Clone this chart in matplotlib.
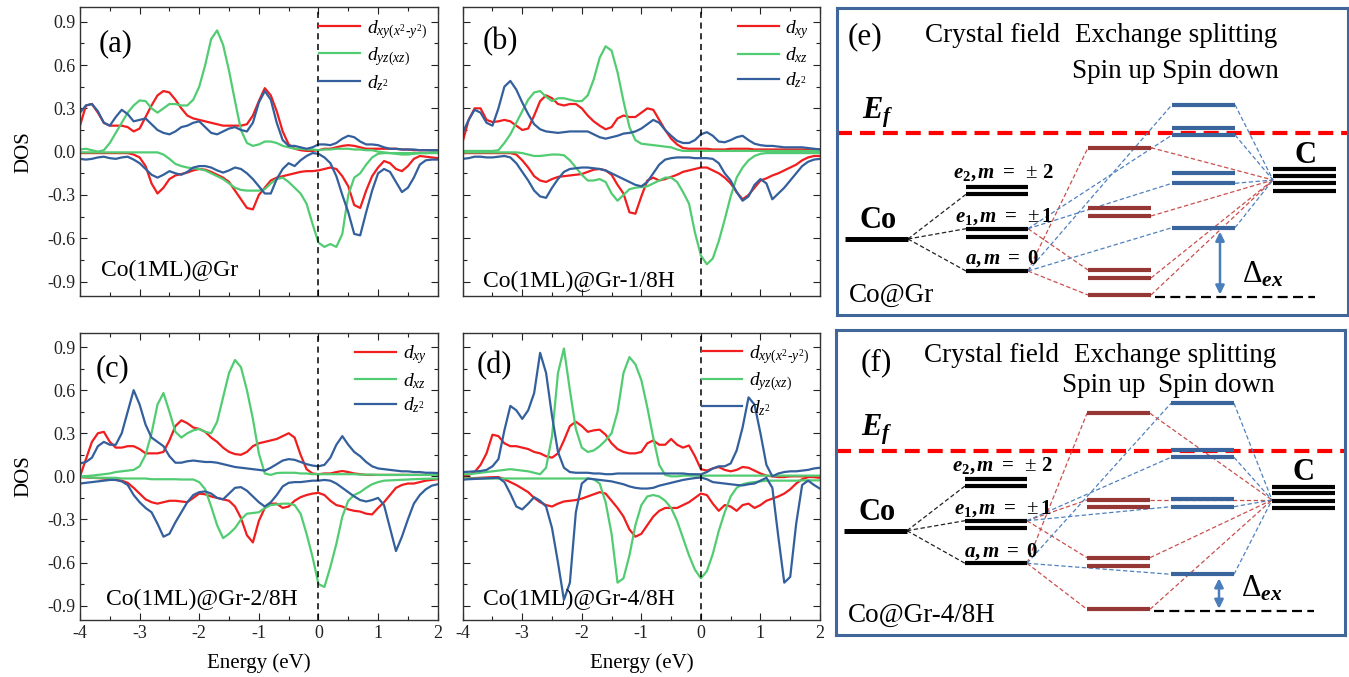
"""
Orbital-resolved Co d-DOS for Co(1ML)@Gr with H coverage (a-d)
and schematic level diagrams for crystal field / exchange splitting (e, f).
"""
import numpy as np
import matplotlib
matplotlib.use("Agg")
import matplotlib.pyplot as plt
from matplotlib.ticker import MultipleLocator, FormatStrFormatter

plt.rcParams["font.family"] = ["Liberation Serif", "DejaVu Serif"]
plt.rcParams["mathtext.fontset"] = "custom"
plt.rcParams["mathtext.rm"] = "Liberation Serif"
plt.rcParams["mathtext.it"] = "Liberation Serif:italic"
plt.rcParams["mathtext.bf"] = "Liberation Serif:bold"
plt.rcParams["mathtext.bfit"] = "Liberation Serif:bold:italic"
plt.rcParams["axes.unicode_minus"] = False

W, H = 1349, 677
RED, GREEN, BLUE = "#F01E1E", "#52CC72", "#33609C"

# ---------------- DOS data, energy grid -4 .. 2 eV, 0.1 eV step -------------
ENERGY = np.round(np.linspace(-4.0, 2.0, 61), 1)

# (a) Co(1ML)@Gr
A_XY_UP = [0.18, 0.32, 0.33, 0.27, 0.20, 0.18, 0.18, 0.18, 0.17, 0.14,
           0.16, 0.24, 0.32, 0.39, 0.42, 0.41, 0.36, 0.30, 0.25, 0.23,
           0.22, 0.21, 0.20, 0.19, 0.18, 0.18, 0.18, 0.18, 0.19, 0.25,
           0.35, 0.44, 0.39, 0.28, 0.14, 0.05, 0.02, 0.01, 0.005, 0.005,
           0.01, 0.02, 0.02, 0.03, 0.04, 0.045, 0.04, 0.03, 0.02, 0.02,
           0.02, 0.02, 0.02, 0.02, 0.015, 0.015, 0.01, 0.01, 0.01, 0.01,
           0.01]
A_YZ_UP = [0.015, 0.02, 0.01, 0.0, 0.01, 0.06, 0.13, 0.20, 0.27, 0.32,
           0.355, 0.35, 0.30, 0.27, 0.30, 0.33, 0.33, 0.32, 0.32, 0.36,
           0.45, 0.60, 0.78, 0.84, 0.74, 0.56, 0.35, 0.15, 0.06, 0.04,
           0.05, 0.07, 0.07, 0.06, 0.04, 0.03, 0.02, 0.02, 0.015, 0.015,
           0.01, 0.015, 0.015, 0.02, 0.02, 0.02, 0.015, 0.015, 0.01, 0.01,
           0.0, -0.005, -0.01, -0.015, -0.02, -0.02, -0.015, -0.01, -0.01, -0.005,
           -0.005]
A_Z2_UP = [0.27, 0.32, 0.33, 0.28, 0.20, 0.18, 0.24, 0.29, 0.26, 0.21,
           0.22, 0.23, 0.19, 0.15, 0.13, 0.12, 0.14, 0.17, 0.18, 0.20,
           0.21, 0.17, 0.13, 0.12, 0.14, 0.16, 0.17, 0.15, 0.14, 0.20,
           0.34, 0.42, 0.36, 0.20, 0.08, 0.04, 0.04, 0.03, 0.02, 0.03,
           0.05, 0.05, 0.045, 0.06, 0.09, 0.11, 0.10, 0.07, 0.05, 0.05,
           0.045, 0.03, 0.02, 0.02, 0.015, 0.015, 0.015, 0.01, 0.01, 0.01,
           0.01]
A_XY_DN = [-0.01, -0.01, -0.01, -0.01, -0.01, -0.01, -0.01, -0.01, -0.01, -0.02,
           -0.04, -0.10, -0.22, -0.29, -0.25, -0.19, -0.165, -0.155, -0.145, -0.13,
           -0.12, -0.125, -0.14, -0.16, -0.18, -0.21, -0.27, -0.33, -0.39, -0.40,
           -0.30, -0.25, -0.20, -0.18, -0.17, -0.16, -0.15, -0.14, -0.135, -0.135,
           -0.13, -0.12, -0.11, -0.12, -0.17, -0.24, -0.37, -0.39, -0.27, -0.17,
           -0.11, -0.065, -0.08, -0.12, -0.135, -0.10, -0.05, -0.03, -0.035, -0.04,
           -0.045]
A_YZ_DN = [-0.005, -0.005, -0.005, -0.005, -0.005, -0.005, -0.005, -0.005, -0.005, -0.005,
           -0.005, -0.005, -0.005, -0.005, -0.02, -0.05, -0.085, -0.10, -0.11, -0.115,
           -0.12, -0.13, -0.15, -0.17, -0.19, -0.22, -0.25, -0.265, -0.27, -0.27,
           -0.27, -0.26, -0.22, -0.19, -0.18, -0.21, -0.25, -0.29, -0.36, -0.50,
           -0.63, -0.66, -0.64, -0.66, -0.57, -0.30, -0.18, -0.15, -0.09, -0.04,
           -0.015, -0.01, -0.01, -0.01, -0.01, -0.01, -0.01, -0.01, -0.01, -0.01,
           -0.01]
A_Z2_DN = [-0.05, -0.055, -0.05, -0.04, -0.035, -0.045, -0.05, -0.04, -0.035, -0.055,
           -0.08, -0.12, -0.16, -0.18, -0.16, -0.135, -0.15, -0.16, -0.14, -0.11,
           -0.10, -0.10, -0.11, -0.13, -0.145, -0.13, -0.11, -0.12, -0.15, -0.19,
           -0.24, -0.29, -0.29, -0.19, -0.12, -0.08, -0.10, -0.06, -0.03, -0.01,
           -0.015, -0.04, -0.08, -0.17, -0.30, -0.42, -0.57, -0.58, -0.42, -0.27,
           -0.15, -0.12, -0.14, -0.21, -0.28, -0.25, -0.18, -0.09, -0.06, -0.055,
           -0.055]

# (b) Co(1ML)@Gr-1/8H
B_XY_UP = [0.07, 0.22, 0.30, 0.30, 0.22, 0.205, 0.21, 0.22, 0.21, 0.18,
           0.15, 0.16, 0.25, 0.35, 0.39, 0.37, 0.33, 0.32, 0.33, 0.33,
           0.30, 0.25, 0.21, 0.18, 0.155, 0.17, 0.23, 0.25, 0.24, 0.24,
           0.27, 0.30, 0.29, 0.22, 0.15, 0.09, 0.05, 0.025, 0.02, 0.02,
           0.02, 0.02, 0.015, 0.015, 0.015, 0.02, 0.02, 0.02, 0.02, 0.015,
           0.015, 0.015, 0.015, 0.015, 0.015, 0.015, 0.015, 0.015, 0.015, 0.015,
           0.015]
B_XZ_UP = [0.005, 0.005, 0.005, 0.005, 0.005, 0.005, 0.01, 0.06, 0.12, 0.20,
           0.28, 0.36, 0.41, 0.42, 0.38, 0.35, 0.37, 0.37, 0.36, 0.35,
           0.35, 0.39, 0.50, 0.65, 0.73, 0.70, 0.55, 0.35, 0.17, 0.08,
           0.055, 0.05, 0.045, 0.04, 0.035, 0.03, 0.015, 0.005, 0.005, 0.005,
           0.005, 0.005, 0.005, 0.005, 0.005, 0.005, 0.005, 0.005, 0.005, 0.005,
           0.005, 0.005, 0.005, 0.005, 0.005, 0.005, 0.005, 0.005, 0.005, 0.005,
           0.005]
B_Z2_UP = [0.13, 0.22, 0.29, 0.27, 0.20, 0.18, 0.30, 0.45, 0.49, 0.43,
           0.34, 0.26, 0.19, 0.155, 0.14, 0.135, 0.13, 0.135, 0.14, 0.14,
           0.14, 0.14, 0.12, 0.10, 0.09, 0.10, 0.11, 0.125, 0.13, 0.14,
           0.16, 0.19, 0.22, 0.20, 0.15, 0.11, 0.075, 0.06, 0.06, 0.08,
           0.12, 0.135, 0.11, 0.07, 0.065, 0.08, 0.10, 0.11, 0.08, 0.055,
           0.045, 0.04, 0.04, 0.035, 0.03, 0.03, 0.03, 0.03, 0.025, 0.02,
           0.016]
B_XY_DN = [-0.01, -0.01, -0.01, -0.01, -0.01, -0.01, -0.01, -0.01, -0.01, -0.02,
           -0.06, -0.11, -0.17, -0.20, -0.21, -0.19, -0.175, -0.17, -0.165, -0.16,
           -0.155, -0.14, -0.125, -0.12, -0.13, -0.16, -0.23, -0.29, -0.42, -0.43,
           -0.31, -0.20, -0.18, -0.20, -0.19, -0.175, -0.16, -0.14, -0.13, -0.12,
           -0.11, -0.11, -0.13, -0.15, -0.18, -0.22, -0.28, -0.33, -0.30, -0.25,
           -0.20, -0.185, -0.165, -0.15, -0.13, -0.11, -0.09, -0.06, -0.04, -0.03,
           -0.03]
B_XZ_DN = [-0.005, -0.005, -0.005, -0.005, -0.005, -0.005, -0.005, -0.005, -0.005, -0.005,
           -0.01, -0.02, -0.03, -0.03, -0.025, -0.02, -0.02, -0.025, -0.06, -0.11,
           -0.16, -0.20, -0.20, -0.19, -0.21, -0.29, -0.34, -0.30, -0.26, -0.25,
           -0.245, -0.24, -0.22, -0.20, -0.18, -0.18, -0.21, -0.28, -0.36, -0.56,
           -0.72, -0.78, -0.74, -0.62, -0.47, -0.31, -0.18, -0.11, -0.06, -0.03,
           -0.015, -0.01, -0.01, -0.01, -0.01, -0.01, -0.01, -0.01, -0.01, -0.01,
           -0.01]
B_Z2_DN = [-0.05, -0.045, -0.035, -0.035, -0.04, -0.04, -0.035, -0.03, -0.04, -0.08,
           -0.14, -0.20, -0.27, -0.31, -0.32, -0.25, -0.19, -0.14, -0.12, -0.115,
           -0.11, -0.11, -0.115, -0.12, -0.13, -0.15, -0.17, -0.19, -0.21, -0.23,
           -0.24, -0.21, -0.15, -0.09, -0.055, -0.045, -0.04, -0.04, -0.04, -0.045,
           -0.045, -0.045, -0.05, -0.08, -0.15, -0.20, -0.28, -0.34, -0.31, -0.23,
           -0.19, -0.22, -0.33, -0.29, -0.25, -0.20, -0.15, -0.10, -0.07, -0.055,
           -0.05]

# (c) Co(1ML)@Gr-2/8H
C_XY_UP = [0.0, 0.12, 0.24, 0.30, 0.31, 0.24, 0.20, 0.20, 0.21, 0.21,
           0.19, 0.16, 0.16, 0.16, 0.17, 0.25, 0.35, 0.39, 0.37, 0.34,
           0.33, 0.31, 0.27, 0.24, 0.20, 0.17, 0.155, 0.15, 0.17, 0.21,
           0.23, 0.24, 0.25, 0.26, 0.28, 0.30, 0.27, 0.15, 0.05, 0.02,
           0.015, 0.02, 0.02, 0.03, 0.037, 0.03, 0.02, 0.015, 0.01, 0.01,
           0.01, 0.01, 0.01, 0.01, 0.01, 0.01, 0.01, 0.01, 0.01, 0.01,
           0.01]
C_XZ_UP = [0.0, 0.002, 0.005, 0.01, 0.015, 0.02, 0.03, 0.035, 0.04, 0.045,
           0.07, 0.15, 0.30, 0.50, 0.58, 0.45, 0.31, 0.27, 0.30, 0.32,
           0.33, 0.31, 0.30, 0.38, 0.55, 0.72, 0.81, 0.76, 0.60, 0.40,
           0.16, 0.02, 0.01, 0.023, 0.025, 0.025, 0.025, 0.02, 0.02, 0.015,
           0.015, 0.015, 0.015, 0.015, 0.015, 0.015, 0.015, 0.012, 0.012, 0.012,
           0.01, 0.01, 0.01, 0.01, 0.01, 0.01, 0.01, 0.01, 0.01, 0.01,
           0.01]
C_Z2_UP = [0.09, 0.10, 0.13, 0.21, 0.24, 0.22, 0.22, 0.30, 0.45, 0.60,
           0.50, 0.36, 0.27, 0.24, 0.21, 0.14, 0.095, 0.095, 0.105, 0.11,
           0.105, 0.10, 0.10, 0.095, 0.085, 0.075, 0.065, 0.06, 0.055, 0.05,
           0.045, 0.04, 0.06, 0.085, 0.11, 0.12, 0.115, 0.10, 0.085, 0.075,
           0.07, 0.08, 0.13, 0.22, 0.28, 0.22, 0.17, 0.14, 0.10, 0.07,
           0.055, 0.05, 0.045, 0.04, 0.035, 0.035, 0.03, 0.03, 0.025, 0.025,
           0.023]
C_XY_DN = [-0.005, -0.008, -0.01, -0.012, -0.015, -0.02, -0.025, -0.03, -0.045, -0.08,
           -0.12, -0.16, -0.18, -0.19, -0.18, -0.17, -0.17, -0.175, -0.18, -0.15,
           -0.12, -0.125, -0.14, -0.15, -0.16, -0.17, -0.21, -0.29, -0.41, -0.46,
           -0.31, -0.22, -0.19, -0.19, -0.22, -0.21, -0.17, -0.145, -0.13, -0.12,
           -0.115, -0.13, -0.17, -0.20, -0.21, -0.23, -0.24, -0.245, -0.26, -0.265,
           -0.22, -0.18, -0.13, -0.08, -0.06, -0.05, -0.05, -0.04, -0.03, -0.025,
           -0.02]
C_XZ_DN = [-0.005, -0.005, -0.01, -0.01, -0.01, -0.01, -0.01, -0.015, -0.015, -0.015,
           -0.015, -0.015, -0.02, -0.02, -0.02, -0.02, -0.02, -0.022, -0.022, -0.022,
           -0.04, -0.09, -0.21, -0.34, -0.43, -0.40, -0.36, -0.30, -0.26, -0.255,
           -0.25, -0.22, -0.20, -0.195, -0.19, -0.19, -0.20, -0.26, -0.40, -0.56,
           -0.75, -0.77, -0.63, -0.47, -0.28, -0.17, -0.13, -0.11, -0.08, -0.055,
           -0.04, -0.03, -0.028, -0.026, -0.024, -0.022, -0.02, -0.018, -0.017, -0.016,
           -0.016]
C_Z2_DN = [-0.05, -0.045, -0.04, -0.035, -0.03, -0.025, -0.025, -0.035, -0.06, -0.13,
           -0.18, -0.22, -0.25, -0.33, -0.42, -0.40, -0.32, -0.25, -0.18, -0.13,
           -0.11, -0.105, -0.12, -0.15, -0.16, -0.12, -0.08, -0.075, -0.10, -0.14,
           -0.18, -0.21, -0.18, -0.13, -0.07, -0.045, -0.04, -0.04, -0.035, -0.03,
           -0.03, -0.025, -0.03, -0.05, -0.08, -0.11, -0.14, -0.165, -0.175, -0.165,
           -0.15, -0.20, -0.36, -0.52, -0.42, -0.30, -0.19, -0.13, -0.09, -0.065,
           -0.055]

# (d) Co(1ML)@Gr-4/8H
D_XY_UP = [0.007, 0.01, 0.03, 0.08, 0.16, 0.29, 0.28, 0.23, 0.21, 0.21,
           0.20, 0.19, 0.17, 0.16, 0.14, 0.13, 0.16, 0.25, 0.35, 0.38,
           0.35, 0.31, 0.32, 0.325, 0.29, 0.23, 0.19, 0.17, 0.16, 0.16,
           0.17, 0.23, 0.25, 0.22, 0.22, 0.26, 0.22, 0.20, 0.215, 0.14,
           0.05, 0.04, 0.055, 0.065, 0.045, 0.035, 0.045, 0.065, 0.06, 0.04,
           0.02, 0.005, 0.0, -0.005, -0.005, 0.0, 0.0, 0.0, 0.0, -0.005,
           -0.005]
D_XZ_UP = [0.014, 0.016, 0.02, 0.025, 0.03, 0.035, 0.04, 0.045, 0.05, 0.045,
           0.04, 0.035, 0.025, 0.015, 0.06, 0.28, 0.72, 0.89, 0.60, 0.33,
           0.20, 0.17, 0.18, 0.21, 0.25, 0.30, 0.45, 0.72, 0.83, 0.78,
           0.67, 0.48, 0.27, 0.08, 0.01, 0.0, 0.0, 0.005, 0.005, 0.005,
           0.005, 0.005, 0.005, 0.005, 0.005, 0.005, 0.005, 0.005, 0.005, 0.005,
           0.005, 0.005, 0.005, 0.005, 0.005, 0.005, 0.005, 0.005, 0.005, 0.005,
           0.005]
D_Z2_UP = [0.03, 0.032, 0.035, 0.037, 0.045, 0.07, 0.12, 0.32, 0.49, 0.46,
           0.40, 0.46, 0.58, 0.86, 0.72, 0.42, 0.17, 0.06, 0.03, 0.025,
           0.025, 0.025, 0.02, 0.02, 0.015, 0.015, 0.02, 0.02, 0.02, 0.02,
           0.02, 0.02, 0.02, 0.02, 0.02, 0.02, 0.02, 0.02, 0.015, 0.015,
           0.014, 0.03, 0.055, 0.07, 0.07, 0.09, 0.18, 0.34, 0.55, 0.50,
           0.30, 0.08, 0.0, 0.02, 0.03, 0.035, 0.035, 0.04, 0.045, 0.055,
           0.06]
D_XY_DN = [-0.016, -0.014, -0.012, -0.01, -0.008, -0.006, -0.005, -0.02, -0.04, -0.06,
           -0.085, -0.11, -0.15, -0.18, -0.20, -0.21, -0.19, -0.175, -0.17, -0.165,
           -0.155, -0.14, -0.125, -0.11, -0.12, -0.17, -0.22, -0.28, -0.37, -0.42,
           -0.40, -0.34, -0.28, -0.24, -0.22, -0.22, -0.22, -0.20, -0.18, -0.15,
           -0.12, -0.13, -0.19, -0.24, -0.20, -0.21, -0.24, -0.20, -0.19, -0.22,
           -0.20, -0.17, -0.155, -0.14, -0.12, -0.09, -0.05, -0.02, -0.005, -0.005,
           -0.01]
D_XZ_DN = [-0.015, -0.015, -0.015, -0.015, -0.015, -0.015, -0.015, -0.015, -0.015, -0.015,
           -0.015, -0.015, -0.015, -0.015, -0.015, -0.015, -0.015, -0.015, -0.015, -0.015,
           -0.015, -0.015, -0.02, -0.05, -0.18, -0.40, -0.74, -0.71, -0.55, -0.34,
           -0.20, -0.14, -0.13, -0.14, -0.17, -0.22, -0.31, -0.43, -0.55, -0.65,
           -0.71, -0.66, -0.54, -0.38, -0.25, -0.14, -0.08, -0.055, -0.045, -0.04,
           -0.035, -0.03, -0.03, -0.03, -0.03, -0.03, -0.03, -0.028, -0.028, -0.028,
           -0.028]
D_Z2_DN = [-0.023, -0.02, -0.018, -0.016, -0.014, -0.012, -0.01, -0.04, -0.12, -0.21,
           -0.23, -0.19, -0.145, -0.17, -0.21, -0.36, -0.60, -0.86, -0.74, -0.25,
           -0.05, -0.015, -0.02, -0.025, -0.03, -0.035, -0.045, -0.055, -0.07, -0.08,
           -0.085, -0.085, -0.08, -0.065, -0.055, -0.045, -0.035, -0.025, -0.018, -0.012,
           -0.008, -0.02, -0.04, -0.045, -0.05, -0.055, -0.06, -0.063, -0.055, -0.05,
           -0.03, -0.01, -0.08, -0.42, -0.74, -0.70, -0.33, -0.06, -0.03, -0.06,
           -0.086]

LBL_MIXED = [r"$d_{xy(x^2\text{-}y^2)}$", r"$d_{yz(xz)}$", r"$d_{z^2}$"]
LBL_PLAIN = [r"$d_{xy}$", r"$d_{xz}$", r"$d_{z^2}$"]

# ---------------- level diagram data (local box pixels, y downwards) ------
E_CO, F_CO = 231.0, 200.7
E_CF = [178.7, 186.3, 220.7, 228.7, 263.0]
F_CF = [149.3, 156.0, 190.7, 198.3, 233.3]
E_SU = [139.7, 200.0, 208.0, 262.0, 270.0, 287.0]
F_SU = [83.3, 170.0, 177.3, 227.7, 235.7, 279.3]
E_SD = [96.7, 119.7, 127.0, 165.3, 175.3, 219.7]
F_SD = [73.3, 120.0, 127.3, 169.3, 176.7, 244.3]
E_C = [161.3, 168.3, 175.3, 183.0]
F_C = [156.7, 163.3, 170.7, 178.3]
E_EF, F_EF = 125.3, 121.0
E_HUB, F_HUB = 172.0, 170.0

# links: (crystal-field level, spin level) on the left, spin level -> C on the right
CO_LINKS = [1, 2, 4]
E_UP_LEFT = [(4, 0), (2, 3), (4, 5)]
E_DN_LEFT = [(4, 0), (2, 2), (2, 4), (4, 5)]
E_UP_RIGHT = [0, 2, 4, 5]
E_DN_RIGHT = [0, 2, 4, 5]
F_UP_LEFT = [(4, 0), (2, 1), (2, 3), (4, 5)]
F_DN_LEFT = [(4, 0), (2, 2), (2, 4), (4, 5)]
F_UP_RIGHT = [0, 1, 3, 5]
F_DN_RIGHT = [0, 2, 4, 5]

CO_X, CF_X, SU_X, SD_X, C_X = (8, 71), (129, 191), (251, 314), (335, 398), (436, 499)
SU_COL, SD_COL = "#953735", "#3A659C"
SU_LINK, SD_LINK = "#C9504D", "#4F81BD"
BOX_COL = "#41679A"


def px_rect(x0, y0, x1, y1):
    return [x0 / W, 1 - y1 / H, (x1 - x0) / W, (y1 - y0) / H]


fig = plt.figure(figsize=(W / 100, H / 100), dpi=100)

PANELS = [
    ((80, 7.3, 437.7, 296), "(a)", (0.10, 0.875), "Co(1ML)@Gr", (0.06, 0.09),
     (A_XY_UP, A_YZ_UP, A_Z2_UP, A_XY_DN, A_YZ_DN, A_Z2_DN), LBL_MIXED, False, True),
    ((462.7, 7.3, 820, 296), "(b)", (0.105, 0.88), "Co(1ML)@Gr-1/8H", (0.056, 0.05),
     (B_XY_UP, B_XZ_UP, B_Z2_UP, B_XY_DN, B_XZ_DN, B_Z2_DN), LBL_PLAIN, False, False),
    ((80, 332.7, 437.7, 620), "(c)", (0.09, 0.875), "Co(1ML)@Gr-2/8H", (0.074, 0.07),
     (C_XY_UP, C_XZ_UP, C_Z2_UP, C_XY_DN, C_XZ_DN, C_Z2_DN), LBL_PLAIN, True, True),
    ((462.7, 332.7, 820, 620), "(d)", (0.09, 0.885), "Co(1ML)@Gr-4/8H", (0.058, 0.07),
     (D_XY_UP, D_XZ_UP, D_Z2_UP, D_XY_DN, D_XZ_DN, D_Z2_DN), LBL_MIXED, True, False),
]

for box, tag, tag_xy, name, name_xy, curves, labels, xlab, ylab in PANELS:
    ax = fig.add_axes(px_rect(*box))
    colors = [RED, GREEN, BLUE]
    for k in range(3):
        ax.plot(ENERGY, curves[k], color=colors[k], lw=1.6, label=labels[k])
        ax.plot(ENERGY, curves[k + 3], color=colors[k], lw=1.6)
    ax.axvline(0, color="black", lw=1.1, ls=(0, (4, 3)))
    ax.set_xlim(-4, 2)
    ax.set_ylim(-1.0, 1.0)
    ax.xaxis.set_major_locator(MultipleLocator(1))
    ax.xaxis.set_minor_locator(MultipleLocator(0.5))
    ax.yaxis.set_major_locator(MultipleLocator(0.3))
    ax.yaxis.set_minor_locator(MultipleLocator(0.15))
    ax.yaxis.set_major_formatter(FormatStrFormatter("%.1f"))
    ax.tick_params(which="both", direction="in", top=True, right=True,
                   labelsize=13, width=0.8, colors="#222222")
    ax.tick_params(which="major", length=5)
    ax.tick_params(which="minor", length=3)
    ax.tick_params(labelbottom=xlab, labelleft=ylab)
    for s in ax.spines.values():
        s.set_color("#333333")
        s.set_linewidth(1.0)
    if xlab:
        ax.set_xlabel("Energy (eV)", fontsize=15, labelpad=8)
    if ylab:
        ax.set_ylabel("DOS", fontsize=15, labelpad=10)
    ax.text(*tag_xy, tag, transform=ax.transAxes, fontsize=22,
            ha="center", va="center")
    ax.text(*name_xy, name, transform=ax.transAxes, fontsize=17,
            ha="left", va="center")
    ax.legend(loc="upper right", frameon=False, fontsize=14, handlelength=2.1,
              handletextpad=0.35, labelspacing=0.25, borderaxespad=0.15)


def level(ax, xs, y, color, lw=3.0):
    ax.plot(xs, [y, y], color=color, lw=lw, solid_capstyle="butt", zorder=3)


def link(ax, x0, y0, x1, y1, color):
    ax.plot([x0, x1], [y0, y1], color=color, lw=0.9, ls=(0, (3.5, 2)), zorder=2)


def scheme(box, co, cf, su, sd, carbon, ef, hub, up_left, dn_left, up_right,
           dn_right, tag, sample, head_y, spin_y, split_spin):
    x0, y0, x1, y1 = box
    ax = fig.add_axes(px_rect(*box))
    ax.set_xlim(0, x1 - x0)
    ax.set_ylim(y1 - y0, 0)
    ax.set_xticks([])
    ax.set_yticks([])
    for s in ax.spines.values():
        s.set_color(BOX_COL)
        s.set_linewidth(2.2)

    # Fermi level
    ax.plot([0, x1 - x0], [ef, ef], color="#FF0000", lw=3.0,
            dashes=(3.6, 1.9), zorder=1)
    # levels
    level(ax, CO_X, co, "black", lw=3.6)
    for y in cf:
        level(ax, CF_X, y, "black")
    for y in su:
        level(ax, SU_X, y, SU_COL)
    for y in sd:
        level(ax, SD_X, y, SD_COL)
    for y in carbon:
        level(ax, C_X, y, "black")
    # dashed connectors
    for j in CO_LINKS:
        link(ax, CO_X[1], co, CF_X[0], cf[j], "#222222")
    for i, j in up_left:
        link(ax, CF_X[1], cf[i], SU_X[0], su[j], SU_LINK)
    for i, j in dn_left:
        link(ax, CF_X[1], cf[i], SD_X[0], sd[j], SD_LINK)
    for j in up_right:
        link(ax, SU_X[1], su[j], C_X[0], hub, SU_LINK)
    for j in dn_right:
        link(ax, SD_X[1], sd[j], C_X[0], hub, SD_LINK)
    # exchange splitting
    ground = su[-1] + 1.5
    ax.plot([318, 478], [ground, ground], color="black", lw=1.6,
            dashes=(4.5, 2.4), zorder=2)
    ax.annotate("", xy=(383, ground - 2), xytext=(383, sd[-1] + 4),
                arrowprops=dict(arrowstyle="<|-|>", color="#4A7EBB", lw=1.8,
                                mutation_scale=13, shrinkA=0, shrinkB=0))
    ax.text(405, ground - 22, r"$\Delta_{\mathbfit{ex}}$", fontsize=22,
            ha="left", va="center")

    # text
    ax.text(tag[1], tag[2], tag[0], fontsize=22.5, ha="center", va="center")
    ax.text(88, head_y, "Crystal field", fontsize=19.5, ha="left", va="center")
    ax.text(238, head_y, "Exchange splitting", fontsize=19.5, ha="left", va="center")
    if split_spin:
        ax.text(226, spin_y, "Spin up", fontsize=19.5, ha="left", va="center")
        ax.text(322, spin_y, "Spin down", fontsize=19.5, ha="left", va="center")
    else:
        ax.text(235, spin_y, "Spin up Spin down", fontsize=19.5, ha="left", va="center")
    ax.text(25, ef - 21, r"$\mathbfit{E}_{\mathbfit{f}}$", fontsize=22,
            ha="left", va="center")
    ax.text(41, co - 18, "Co", fontsize=22, fontweight="bold",
            ha="center", va="center")
    ax.text(468, carbon[0] - 14, "C", fontsize=22, fontweight="bold",
            ha="center", va="center")
    ax.text(116, cf[0] - 14,
            r"$\mathbfit{e}_{\mathbf{2}}\mathbf{,}\,\mathbfit{m}\ \mathbf{=}\ \pm\,\mathbf{2}$",
            fontsize=15, ha="left", va="center")
    ax.text(118, cf[2] - 12,
            r"$\mathbfit{e}_{\mathbf{1}}\mathbf{,}\,\mathbfit{m}\ \mathbf{=}\ \pm\mathbf{1}$",
            fontsize=15, ha="left", va="center")
    ax.text(128, cf[4] - 12,
            r"$\mathbfit{a}\mathbf{,}\,\mathbfit{m}\ \mathbf{=}\ \mathbf{0}$",
            fontsize=15, ha="left", va="center")
    ax.text(12, (y1 - y0) - 20, sample, fontsize=19.5, ha="left", va="center")


scheme((837, 8, 1348, 315), E_CO, E_CF, E_SU, E_SD, E_C, E_EF, E_HUB,
       E_UP_LEFT, E_DN_LEFT, E_UP_RIGHT, E_DN_RIGHT,
       ("(e)", 28, 29), "Co@Gr", 27, 64, False)
scheme((836, 330, 1345, 635), F_CO, F_CF, F_SU, F_SD, F_C, F_EF, F_HUB,
       F_UP_LEFT, F_DN_LEFT, F_UP_RIGHT, F_DN_RIGHT,
       ("(f)", 40, 33), "Co@Gr-4/8H", 25, 55, True)

fig.savefig("out.png", dpi=100)
plt.close(fig)
